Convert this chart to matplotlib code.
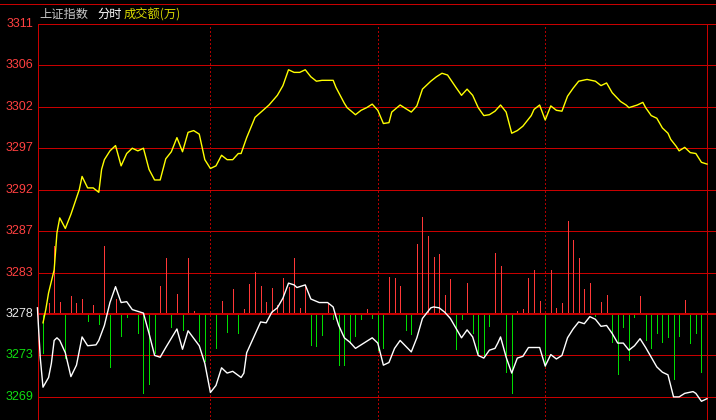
import matplotlib
matplotlib.use('Agg')
import matplotlib.pyplot as plt

plt.rcParams['font.family'] = ['Noto Sans CJK SC', 'DejaVu Sans']

# ---- 数据 ----
base_price = 3278.0
level_step = 4.7
level_offsets = [-2, -1, 0, 1, 2, 3, 4, 5, 6, 7]
level_labels = ['3269', '3273', '3278', '3283', '3287', '3292', '3297', '3302', '3306', '3311']
session_marks = [60, 120, 180]
last_minute = 238

# 上证指数 分时 (黄线)
yellow_min = [0, 1, 2, 4, 5, 6, 8, 10, 13, 14, 16, 18, 20, 21, 22, 24, 26, 28, 30, 32,
              34, 36, 38, 40, 42, 44, 46, 48, 50, 52, 54, 56, 58, 60, 62, 64, 66, 68, 70, 71,
              73, 76, 81, 84, 86, 88, 90, 92, 94, 96, 98, 100, 104, 105, 108, 109, 112, 114, 116, 118,
              120, 122, 124, 125, 128, 130, 132, 134, 136, 139, 141, 143, 145, 148, 150, 152, 154, 156, 158, 160,
              162, 164, 166, 168, 170, 172, 175, 176, 178, 180, 182, 184, 186, 188, 190, 192, 195, 198, 200, 202,
              204, 207, 209, 210, 213, 215, 216, 218, 220, 222, 224, 225, 227, 228, 230, 232, 234, 236, 238]
yellow_val = [3277.0, 3278.5, 3280.4, 3283.0, 3287.2, 3288.9, 3287.7, 3289.3, 3292.1, 3293.6,
              3292.3, 3292.3, 3291.8, 3294.4, 3295.5, 3296.5, 3297.1, 3294.8, 3296.2, 3296.8,
              3296.5, 3296.8, 3294.4, 3293.2, 3293.2, 3295.6, 3296.4, 3298.0, 3296.4, 3298.6,
              3298.8, 3298.4, 3295.5, 3294.5, 3294.8, 3296.0, 3295.5, 3295.5, 3296.2, 3296.2,
              3298.0, 3300.3, 3301.7, 3302.8, 3303.9, 3305.7, 3305.4, 3305.4, 3305.7, 3304.9,
              3304.4, 3304.5, 3304.5, 3303.7, 3301.9, 3301.4, 3300.6, 3301.1, 3301.4, 3301.8,
              3301.1, 3299.6, 3299.7, 3300.9, 3301.7, 3301.3, 3300.9, 3301.6, 3303.5, 3304.4,
              3304.9, 3305.3, 3305.1, 3303.7, 3302.8, 3303.5, 3302.8, 3301.4, 3300.5, 3300.6,
              3301.0, 3301.7, 3300.9, 3298.5, 3298.8, 3299.3, 3300.5, 3301.2, 3301.7, 3300.0,
              3301.6, 3301.1, 3301.0, 3302.7, 3303.6, 3304.4, 3304.6, 3304.4, 3303.9, 3304.2,
              3303.1, 3302.1, 3301.7, 3301.4, 3301.7, 3302.0, 3301.4, 3300.5, 3300.2, 3299.1,
              3298.5, 3297.8, 3297.0, 3296.5, 3296.9, 3296.3, 3296.2, 3295.2, 3295.0]

# 白线
white_min = [-2, -1, 0, 2, 3, 4, 5, 6, 8, 10, 12, 14, 16, 19, 20, 22, 24, 26, 28, 30,
             32, 36, 38, 40, 42, 44, 48, 50, 52, 56, 58, 60, 62, 64, 66, 68, 71, 72, 73, 75,
             78, 80, 82, 84, 86, 88, 90, 91, 94, 96, 99, 102, 104, 105, 106, 108, 110, 112, 115, 118,
             120, 122, 124, 126, 128, 132, 134, 136, 139, 140, 142, 144, 146, 148, 150, 152, 154, 156, 158, 160,
             162, 163, 164, 166, 168, 170, 172, 174, 178, 180, 182, 184, 186, 188, 190, 192, 194, 196, 198, 200,
             202, 204, 206, 208, 210, 212, 214, 216, 218, 220, 222, 224, 226, 228, 230, 233, 234, 236, 238]
white_val = [3278.7, 3273.1, 3269.7, 3270.8, 3272.4, 3275.0, 3275.3, 3275.0, 3273.6, 3270.9,
             3272.2, 3275.4, 3274.4, 3274.5, 3275.0, 3276.7, 3279.3, 3281.1, 3279.3, 3279.4,
             3278.5, 3278.1, 3275.8, 3273.3, 3273.1, 3274.2, 3276.3, 3274.0, 3276.1, 3274.4,
             3272.4, 3269.1, 3269.9, 3271.9, 3271.3, 3271.5, 3270.8, 3271.3, 3273.6, 3275.0,
             3277.1, 3277.0, 3278.2, 3278.7, 3279.8, 3281.5, 3281.3, 3281.0, 3281.3, 3279.7,
             3279.3, 3279.3, 3278.8, 3277.7, 3276.7, 3275.3, 3274.8, 3274.1, 3274.7, 3275.3,
             3274.7, 3272.2, 3272.5, 3274.1, 3275.0, 3273.7, 3275.3, 3277.5, 3278.7, 3278.8,
             3278.7, 3278.2, 3277.5, 3276.4, 3275.3, 3276.2, 3275.4, 3273.3, 3273.0, 3273.9,
             3274.1, 3274.7, 3275.4, 3273.1, 3271.3, 3273.0, 3273.2, 3274.2, 3274.2, 3272.1,
             3273.4, 3272.9, 3273.3, 3275.3, 3276.3, 3277.1, 3276.9, 3277.7, 3277.4, 3276.6,
             3276.7, 3275.8, 3274.7, 3274.7, 3273.9, 3274.4, 3275.2, 3274.2, 3273.1, 3272.0,
             3271.4, 3271.1, 3268.6, 3268.6, 3269.0, 3269.2, 3269.0, 3268.1, 3268.4]

# 柱线 (红涨绿跌)
bar_min = [0, 2, 4, 6, 8, 10, 12, 14, 16, 18, 20, 22, 24, 26, 28, 30, 32, 34, 36, 38,
           40, 42, 44, 46, 48, 50, 52, 54, 56, 58, 62, 64, 66, 68, 70, 72, 74, 76, 78, 80,
           82, 84, 86, 88, 90, 92, 94, 96, 98, 100, 102, 104, 106, 108, 110, 112, 114, 116, 118, 120,
           122, 124, 126, 128, 130, 132, 134, 136, 138, 140, 142, 144, 146, 148, 150, 152, 154, 156, 158, 160,
           162, 164, 166, 168, 170, 172, 174, 176, 178, 180, 182, 184, 186, 188, 190, 192, 194, 196, 198, 200,
           202, 204, 206, 208, 210, 212, 214, 216, 218, 220, 222, 224, 226, 228, 230, 232, 234, 236, 238]
bar_val = [-4.4, 1.3, 7.7, 1.4, -5.0, 2.0, 1.3, 1.7, -0.8, 1.0, -1.1, 7.7, -6.0, 1.7, -2.5, -0.3, 0.1, -2.2, -9.0, -7.9,
           -4.4, 3.2, 6.3, -1.5, 2.3, -1.8, 6.3, 0.3, -3.1, -5.3, -3.9, 1.5, -2.0, 2.8, -2.2, 0.6, 3.4, 4.8, 3.2, 1.4,
           3.0, 1.0, 4.1, 3.1, 6.4, 0.7, 3.3, -3.5, -3.6, -2.4, 1.3, -0.6, -5.8, -5.8, -3.3, -2.5, -0.6, 0.6, -0.5, -4.1,
           -3.9, 4.2, 4.1, 3.2, -1.8, -2.3, 7.9, 11.0, 8.8, 6.5, 6.8, 2.2, 4.0, -4.0, -0.6, 3.5, -2.2, -4.4, -4.8, -1.4,
           6.9, 5.5, -6.6, -9.0, 0.3, 0.6, 4.1, 5.0, 1.5, -5.9, 5.0, 0.7, 1.3, 10.6, 8.4, 6.4, 2.8, 3.5, -0.2, 1.4,
           2.2, -3.2, -6.8, -1.5, -5.2, -0.3, 2.0, -3.0, -3.9, -2.2, -3.2, -2.6, -7.4, -2.5, 1.6, -3.3, -2.2, -6.6, 0.3]

# ---- 样式 ----
bg = '#000000'
grid_red = '#c80000'
dot_red = '#b00000'
up_red = '#ff3838'
down_green = '#00dc00'

W, H = 716, 420
fig = plt.figure(figsize=(W / 100, H / 100), dpi=100, facecolor=bg)
ax = fig.add_axes([0, 0, 1, 1], facecolor=bg)
px_per_min = 2.79
x0 = 43
px_per_pt = 8.818
ax.set_xlim(-x0 / px_per_min, (W - x0) / px_per_min)
ax.set_ylim(base_price - (H - 314) / px_per_pt, base_price + 314 / px_per_pt)
ax.axis('off')

left_frac = 37.5 / W
for off, lab in zip(level_offsets, level_labels):
    lvl = base_price + off * level_step
    lw = 2.0 if off == 0 else 1.0
    ax.axhline(lvl, xmin=left_frac, xmax=1, color=grid_red, lw=lw * 0.72,
               antialiased=False, zorder=3 if off == 0 else 1)
    if off > 0:
        c = '#ff4040'
    elif off < 0:
        c = '#10e010'
    else:
        c = '#e8e8e8'
    ax.text(33.5 / W, lvl, lab, transform=ax.get_yaxis_transform(), ha='right', va='center',
            color=c, fontsize=9, family='Liberation Sans')

top_level = base_price + level_offsets[-1] * level_step
ytop_frac = (top_level - ax.get_ylim()[0]) / (ax.get_ylim()[1] - ax.get_ylim()[0])
ax.axvline(-x0 / px_per_min + left_frac * (W / px_per_min), ymin=0, ymax=ytop_frac,
           color=grid_red, lw=0.72, antialiased=False)
ax.axvline(last_minute, ymin=0, ymax=ytop_frac, color=grid_red, lw=0.72, antialiased=False)
ax.plot([0, 1], [1 - 3.5 / H] * 2, transform=ax.transAxes, color=grid_red, lw=0.72,
        antialiased=False)

for m in session_marks:
    ax.axvline(m, ymin=0, ymax=ytop_frac - 3 / H, color=dot_red, lw=0.72,
               linestyle=(0, (1.4, 2.8)), antialiased=False)

colors = [up_red if v > 0 else down_green for v in bar_val]
ax.vlines(bar_min, base_price, [base_price + v for v in bar_val], colors=colors,
          lw=0.72, antialiased=False, zorder=2)

ax.plot(white_min, white_val, color='#ffffff', lw=1.0, zorder=4)
ax.plot(yellow_min, yellow_val, color='#ffff00', lw=1.0, zorder=5)

ty = 1 - 14.5 / H
fig.text(39 / W, ty, '上证指数', color='#c8c8c8', fontsize=8.8, va='center')
fig.text(97 / W, ty, '分时', color='#ffffff', fontsize=8.8, va='center')
fig.text(124 / W, ty, '成交额(万)', color='#d8d800', fontsize=8.8, va='center')

fig.savefig('out.png', dpi=100, facecolor=bg)
